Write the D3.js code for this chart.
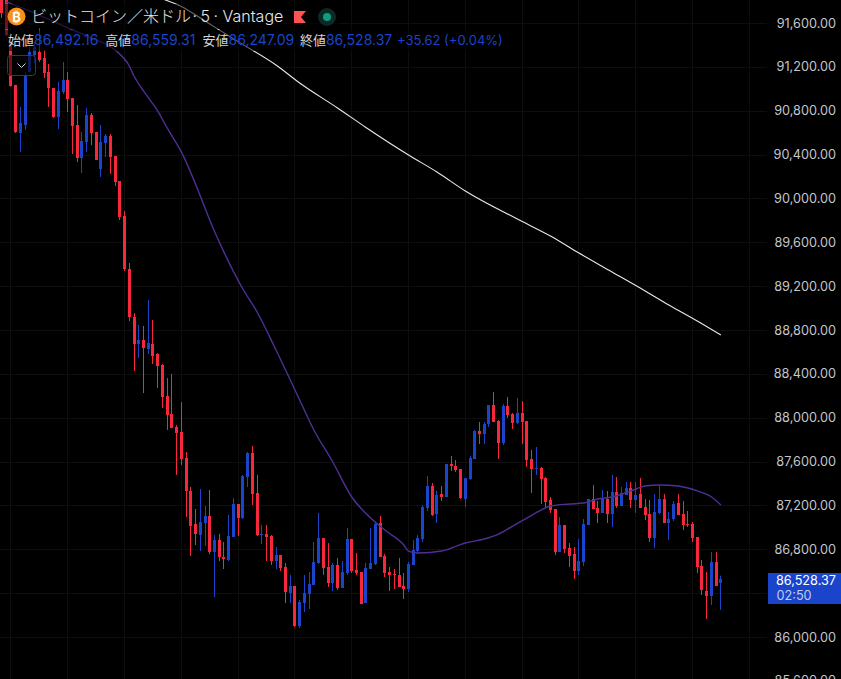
<!DOCTYPE html>
<html>
<head>
<meta charset="utf-8">
<script src="https://cdn.jsdelivr.net/npm/d3@7/dist/d3.min.js"></script>
<style>
  html, body { margin: 0; padding: 0; background: #000; overflow: hidden; }
  text { font-family: Inter, "Noto Sans CJK JP", sans-serif; }
</style>
</head>
<body>
<div id="chart"></div>
<script>
// 5 minute bars, oldest first
const opens = [
  91992, 91992, 91418, 91035, 90597, 90670, 91153, 91308, 91336, 91281, 91153, 91007, 90743, 90971, 91080, 90916, 90670, 90369, 90515, 90761,
  90606, 90269, 90506, 90570, 90387, 90159, 89840, 89356, 88919, 88672, 88709, 88627, 88672, 88581, 88481, 88198, 88034, 87915, 87870, 87633,
  87332, 87030, 86930, 87040, 87104, 86775, 86885, 86730, 86702, 86912, 87213, 87085, 87459, 87678, 87313, 86930, 86939, 86921, 86693, 86748,
  86638, 86401, 86465, 86100, 86310, 86392, 86474, 86675, 86903, 86638, 86493, 86657, 86447, 86584, 86894, 86611, 86593, 86310, 86620, 86666,
  87040, 86739, 86593, 86574, 86565, 86465, 86438, 86657, 86784, 86894, 87177, 87377, 87122, 87304, 87277, 87578, 87560, 87532, 87259, 87441,
  87624, 87879, 87852, 87943, 88116, 87970, 87769, 88107, 88034, 87952, 88043, 87970, 87624, 87532, 87541, 87450, 87250, 87167, 86775, 87022,
  86812, 86757, 86602, 86684, 87022, 87259, 87177, 87131, 87259, 87122, 87323, 87195, 87295, 87359, 87250, 87304, 87186, 87122, 86903, 87131,
  87259, 87040, 87076, 87222, 87122, 87031, 87031, 86912, 86648, 86419, 86374, 86684, 86492.16
];
const highs = [
  92050, 92000, 91430, 91035, 90834, 91153, 91418, 91427, 91555, 91354, 91226, 91007, 91062, 91245, 91153, 90916, 90852, 90606, 90825, 90779,
  90606, 90670, 90588, 90588, 90387, 90159, 89885, 89411, 88955, 88846, 88837, 89074, 88891, 88590, 88490, 88362, 88399, 87934, 88143, 87687,
  87368, 87167, 87350, 87195, 87341, 86930, 86939, 86867, 87113, 87268, 87213, 87478, 87687, 87742, 87478, 87022, 87022, 86930, 86821, 86748,
  86675, 86565, 86465, 86337, 86565, 86593, 86867, 87131, 86903, 86857, 86675, 86720, 86693, 86994, 86894, 86766, 86593, 86675, 86994, 87049,
  87104, 86757, 86638, 86620, 86720, 86584, 86684, 86885, 86930, 87204, 87468, 87405, 87332, 87377, 87578, 87651, 87614, 87532, 87450, 87651,
  87888, 87961, 87961, 88116, 88235, 87979, 88125, 88189, 88043, 88180, 88152, 87970, 87706, 87733, 87551, 87459, 87277, 87167, 87094, 87022,
  86857, 86821, 86894, 87076, 87259, 87386, 87240, 87341, 87332, 87478, 87459, 87368, 87414, 87414, 87414, 87450, 87259, 87250, 87304, 87377,
  87304, 87140, 87240, 87304, 87240, 87149, 87049, 86912, 86702, 86593, 86775, 86775, 86559.31
];
const lows = [
  91646, 91480, 91020, 90597, 90424, 90624, 91150, 91235, 91245, 91099, 90834, 90735, 90633, 90953, 90788, 90405, 90332, 90232, 90424, 90487,
  90351, 90196, 90378, 90223, 90113, 89803, 89338, 88882, 88426, 88545, 88225, 88581, 88490, 88271, 88089, 87888, 87906, 87478, 87569, 87094,
  86739, 86839, 86784, 86830, 86757, 86365, 86693, 86620, 86693, 86912, 86921, 87076, 87368, 87204, 86921, 86848, 86693, 86657, 86620, 86602,
  86310, 86310, 86091, 86082, 86228, 86255, 86474, 86666, 86565, 86456, 86419, 86429, 86447, 86565, 86584, 86565, 86301, 86310, 86620, 86657,
  86730, 86547, 86419, 86438, 86456, 86347, 86410, 86657, 86757, 86867, 87149, 87104, 87040, 87240, 87277, 87514, 87505, 87259, 87186, 87432,
  87624, 87760, 87760, 87915, 87961, 87624, 87751, 87998, 87897, 87943, 87760, 87551, 87313, 87478, 87213, 87177, 87131, 86748, 86775, 86766,
  86638, 86529, 86565, 86648, 87022, 87167, 87040, 87131, 87040, 87003, 87177, 87195, 87295, 87177, 87131, 87177, 87067, 86867, 86812, 87122,
  87040, 86885, 87058, 87113, 86976, 87003, 86867, 86584, 86383, 86164, 86292, 86465, 86247.09
];
const closes = [
  91691, 91491, 91026, 90606, 90688, 91126, 91336, 91381, 91263, 91144, 91007, 90743, 90980, 91080, 90907, 90661, 90369, 90524, 90761, 90597,
  90351, 90515, 90570, 90378, 90150, 89831, 89356, 88919, 88672, 88709, 88636, 88682, 88563, 88472, 88189, 88025, 87906, 87861, 87624, 87332,
  87012, 86939, 87049, 87104, 86775, 86885, 86730, 86711, 86921, 87213, 87085, 87468, 87678, 87304, 86930, 86939, 86912, 86693, 86748, 86629,
  86410, 86465, 86100, 86319, 86401, 86483, 86684, 86903, 86629, 86493, 86657, 86447, 86593, 86894, 86602, 86584, 86301, 86629, 86675, 87031,
  86730, 86584, 86565, 86565, 86456, 86438, 86666, 86793, 86903, 87186, 87377, 87113, 87295, 87277, 87578, 87560, 87523, 87268, 87450, 87633,
  87879, 87852, 87943, 88116, 87961, 87769, 88107, 88025, 87952, 88043, 87961, 87614, 87532, 87541, 87441, 87231, 87158, 86775, 87022, 86803,
  86739, 86602, 86693, 87031, 87259, 87167, 87131, 87259, 87122, 87323, 87195, 87313, 87359, 87250, 87295, 87177, 87113, 86903, 87140, 87259,
  87040, 87076, 87213, 87113, 87022, 87022, 86903, 86638, 86429, 86374, 86684, 86465, 86528.37
];

const purpleBars = [1, 7, 14, 19, 24, 27, 28, 30, 33, 35, 38, 43, 44, 47, 51, 54, 58, 63, 66, 70, 74, 78, 81, 85, 86, 88, 93, 98, 102, 105, 108, 111, 114, 116, 120, 123, 126, 129, 133, 136, 139, 143, 147, 150, 152];
const purpleValues = [91792, 91691, 91555, 91463, 91354, 91208, 91117, 90980, 90798, 90643, 90424, 89913, 89803, 89510, 89174, 88964, 88618, 88162, 87888, 87596, 87277, 87085, 86976, 86839, 86784, 86766, 86784, 86857, 86894, 86939, 87012, 87085, 87158, 87195, 87213, 87222, 87259, 87277, 87332, 87377, 87387, 87377, 87332, 87277, 87204];
const whiteBars = [34, 38, 43, 50, 58, 63, 71, 77, 86, 92, 98, 109, 116, 122, 129, 136, 141, 147, 152];
const whiteValues = [91820, 91751, 91618, 91430, 91217, 91053, 90825, 90647, 90396, 90241, 90068, 89812, 89657, 89502, 89329, 89156, 89028, 88882, 88754];

const priceTicks = [85600, 86000, 86400, 86800, 87200, 87600, 88000, 88400, 88800, 89200, 89600, 90000, 90400, 90800, 91200, 91600];
const hiddenTick = 86400; // sits behind the last price tag
const hourBars = [2, 14, 26, 38, 50, 62, 74, 86, 98, 110, 122, 134, 146, 158];

const upColor = "#1a44c9";
const downColor = "#f7283c";

const width = 841;
const height = 679;
const paneRight = 767;

const svg = d3.select("#chart")
    .append("svg")
    .attr("width", width)
    .attr("height", height)
    .style("display", "block")
    .style("background", "#000");

const x = d3.scaleLinear().domain([0, 152]).range([1.5, 720.9]);
const y = d3.scaleLinear().domain([86000, 91600]).range([637, 23]);
const px = i => Math.floor(x(i)) + 0.5;

// Grid
svg.append("g").selectAll("line")
    .data(priceTicks)
    .join("line")
    .attr("x1", 0)
    .attr("x2", paneRight)
    .attr("y1", d => Math.round(y(d)) + 0.5)
    .attr("y2", d => Math.round(y(d)) + 0.5)
    .attr("stroke", "#0e0e0e");

svg.append("g").selectAll("line")
    .data(hourBars)
    .join("line")
    .attr("x1", d => px(d))
    .attr("x2", d => px(d))
    .attr("y1", 0)
    .attr("y2", height)
    .attr("stroke", "#0e0e0e");

// Candles
const barColor = i => closes[i] >= opens[i] ? upColor : downColor;
const candles = svg.append("g").selectAll("g")
    .data(d3.range(opens.length))
    .join("g")
    .attr("fill", barColor)
    .attr("stroke", barColor);

candles.append("line")
    .attr("x1", px)
    .attr("x2", px)
    .attr("y1", i => y(highs[i]))
    .attr("y2", i => y(lows[i]));

candles.append("rect")
    .attr("x", i => px(i) - 1.5)
    .attr("width", 3)
    .attr("y", i => Math.round(y(Math.max(opens[i], closes[i]))))
    .attr("height", i => Math.max(1, Math.round(Math.abs(y(opens[i]) - y(closes[i])))))
    .attr("stroke", "none");

// Moving averages
const avgLine = bars => d3.line().x((d, i) => x(bars[i])).y(d => y(d)).curve(d3.curveMonotoneX);

svg.append("path")
    .attr("d", avgLine(whiteBars)(whiteValues))
    .attr("fill", "none")
    .attr("stroke", "#e8e8e8")
    .attr("stroke-width", 1.1);

svg.append("path")
    .attr("d", avgLine(purpleBars)(purpleValues))
    .attr("fill", "none")
    .attr("stroke", "#4f2f95")
    .attr("stroke-width", 1.4);

// Price scale
const axis = svg.append("g")
    .attr("transform", `translate(${width - 5},0)`)
    .call(d3.axisLeft(y)
        .tickValues(priceTicks.filter(d => d !== hiddenTick))
        .tickSize(0)
        .tickPadding(0)
        .tickFormat(d3.format(",.2f")));
axis.select(".domain").remove();
axis.selectAll("text")
    .attr("fill", "#c4c6cc")
    .style("font-size", "12.7px");

// Last price tag
const lastPrice = closes[closes.length - 1];
svg.append("rect")
    .attr("x", 768)
    .attr("y", 573)
    .attr("width", 73)
    .attr("height", 31)
    .attr("fill", upColor);
svg.append("text")
    .attr("x", 836)
    .attr("y", 584.5)
    .attr("text-anchor", "end")
    .attr("fill", "#fff")
    .style("font-size", "12.7px")
    .text(d3.format(",.2f")(lastPrice));
svg.append("text")
    .attr("x", 776.5)
    .attr("y", 599.5)
    .attr("fill", "#c4cdec")
    .style("font-size", "12.7px")
    .text("02:50");

// Legend, it dims whatever runs behind it
svg.append("rect").attr("x", 4).attr("y", 4).attr("width", 336).attr("height", 25).attr("fill", "#000").attr("opacity", 0.55);
svg.append("rect").attr("x", 4).attr("y", 30).attr("width", 502).attr("height", 21).attr("fill", "#000").attr("opacity", 0.55);

svg.append("circle").attr("cx", 16.5).attr("cy", 16.5).attr("r", 9).attr("fill", "#f7931a");
svg.append("text")
    .attr("x", 16.5)
    .attr("y", 21.5)
    .attr("text-anchor", "middle")
    .attr("fill", "#fff")
    .style("font-size", "13px")
    .style("font-weight", "bold")
    .text("₿");

const title = svg.append("text")
    .attr("x", 31)
    .attr("y", 22)
    .attr("fill", "#e6e7ea")
    .style("font-size", "16px")
    .style("font-weight", 300);
title.append("tspan").text("ビットコイン／米ドル");
title.append("tspan").attr("dx", -2).style("word-spacing", "-1px").text(" · 5 · ");
title.append("tspan").attr("dx", 1).text("Vantage");

svg.append("path")
    .attr("d", d3.line()([[294, 11], [306, 11], [301, 17], [306, 23], [294, 23]]) + "Z")
    .attr("fill", "#ff5252");

svg.append("circle").attr("cx", 327).attr("cy", 17).attr("r", 9).attr("fill", "#0b2a26");
svg.append("circle").attr("cx", 327).attr("cy", 17).attr("r", 4).attr("fill", "#0f9d7f");

const legendLabels = ["始値", "高値", "安値", "終値"];
const legendValues = ["86,492.16", "86,559.31", "86,247.09", "86,528.37"];
const legend = svg.append("g").selectAll("g")
    .data(legendLabels)
    .join("g")
    .attr("transform", (d, i) => `translate(${8 + i * 97.3},45)`);
legend.append("text").attr("fill", "#d1d4dc").style("font-size", "13px").text(d => d);
legend.append("text").attr("x", 26).attr("fill", upColor).style("font-size", "14px").text((d, i) => legendValues[i]);

svg.append("text")
    .attr("x", 397)
    .attr("y", 45)
    .attr("fill", upColor)
    .style("font-size", "13px")
    .text("+35.62 (+0.04%)");

// Collapse button
svg.append("rect")
    .attr("x", 7.5)
    .attr("y", 55.5)
    .attr("width", 28)
    .attr("height", 20)
    .attr("rx", 3)
    .attr("fill", "#000")
    .attr("fill-opacity", 0.55)
    .attr("stroke", "#3a3a3a");
svg.append("path")
    .attr("d", d3.line()([[17.5, 63.5], [21.5, 67.5], [25.5, 63.5]]))
    .attr("fill", "none")
    .attr("stroke", "#d1d4dc");
</script>
</body>
</html>
